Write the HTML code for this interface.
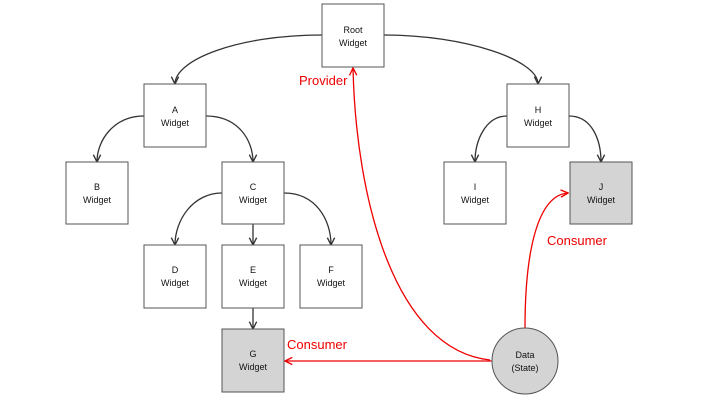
<!DOCTYPE html>
<html><head><meta charset="utf-8"><style>
body{margin:0;background:#fff;}
svg{display:block;font-family:"Liberation Sans",sans-serif;}
</style></head><body>
<svg width="705" height="402" viewBox="0 0 705 402" xmlns="http://www.w3.org/2000/svg">
<defs>
<marker id="ak" viewBox="0 0 10 10" refX="9" refY="5" markerWidth="7" markerHeight="7" orient="auto"><path d="M1,1 L9,5 L1,9" fill="none" stroke="#333" stroke-width="1.5"/></marker>
<marker id="ar" viewBox="0 0 10 10" refX="9" refY="5" markerWidth="7" markerHeight="7" orient="auto"><path d="M1,1 L9,5 L1,9" fill="none" stroke="#e00" stroke-width="1.5"/></marker>
</defs>
<g fill="none" stroke="#333" stroke-width="1.3" marker-end="url(#ak)">
<path d="M322,35 C237,35 175,60 175,84"/>
<path d="M384,35 C465,35 538,60 538,84"/>
<path d="M144,116 C114,116 97,140 97,162"/>
<path d="M206,116 C238,116 253,140 253,162"/>
<path d="M507,116 C486,116 475,140 475,162"/>
<path d="M569,116 C592,116 601,140 601,162"/>
<path d="M222,193 C193,193 175,220 175,245"/>
<path d="M253,224 L253,245"/>
<path d="M284,193 C316,193 331,220 331,245"/>
<path d="M253,308 L253,329"/>
</g>
<g fill="none" stroke="#e00" stroke-width="1.3" marker-end="url(#ar)">
<path d="M492,361 L285,361"/>
<path d="M490,360 C395,350 356,200 353,68"/>
<path d="M525,328 C525,250 538,195 568,193"/>
</g>
<g stroke="#555" stroke-width="1" fill="#fff">
<rect x="322" y="4" width="62" height="63"/>
<rect x="144" y="84" width="62" height="63"/>
<rect x="507" y="84" width="62" height="63"/>
<rect x="66" y="162" width="62" height="62"/>
<rect x="222" y="162" width="62" height="62"/>
<rect x="444" y="162" width="62" height="62"/>
<rect x="570" y="162" width="62" height="62" fill="#d4d4d4"/>
<rect x="144" y="245" width="62" height="63"/>
<rect x="222" y="245" width="62" height="63"/>
<rect x="300" y="245" width="62" height="63"/>
<rect x="222" y="329" width="62" height="63" fill="#d4d4d4"/>
<circle cx="525" cy="361" r="33" fill="#d4d4d4"/>
</g>
<g font-size="9" fill="#111" text-anchor="middle">
<text x="353" y="33">Root</text><text x="353" y="46">Widget</text>
<text x="175" y="113">A</text><text x="175" y="126">Widget</text>
<text x="538" y="113">H</text><text x="538" y="126">Widget</text>
<text x="97" y="190">B</text><text x="97" y="203">Widget</text>
<text x="253" y="190">C</text><text x="253" y="203">Widget</text>
<text x="475" y="190">I</text><text x="475" y="203">Widget</text>
<text x="601" y="190">J</text><text x="601" y="203">Widget</text>
<text x="175" y="273">D</text><text x="175" y="286">Widget</text>
<text x="253" y="273">E</text><text x="253" y="286">Widget</text>
<text x="331" y="273">F</text><text x="331" y="286">Widget</text>
<text x="253" y="357">G</text><text x="253" y="370">Widget</text>
<text x="525" y="358">Data</text><text x="525" y="371">(State)</text>
</g>
<g font-size="13" fill="#e00">
<text x="299" y="85">Provider</text>
<text x="547" y="245">Consumer</text>
<text x="287" y="349">Consumer</text>
</g>
</svg>
</body></html>
